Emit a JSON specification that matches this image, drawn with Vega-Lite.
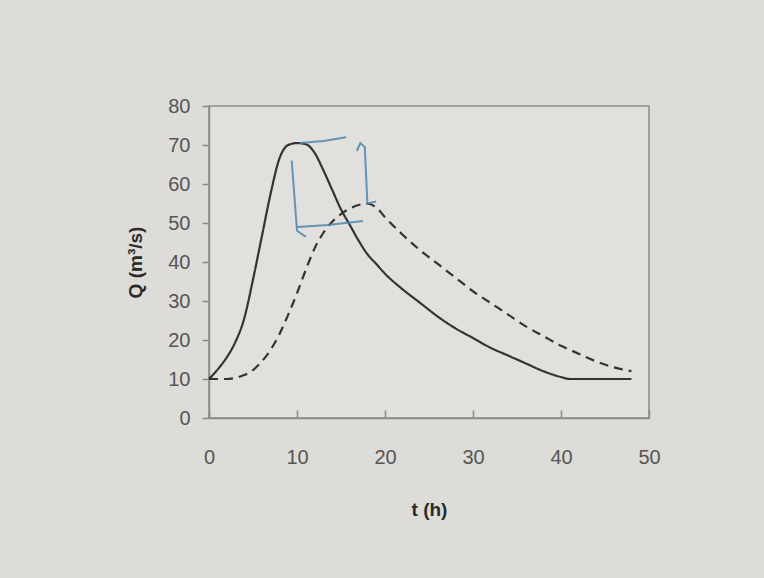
{
  "$schema": "https://vega.github.io/schema/vega-lite/v6.json",
  "width": 440,
  "height": 312,
  "autosize": {"type": "none"},
  "padding": {"left": 209, "top": 106, "right": 115, "bottom": 160},
  "background": "#dddcd8",
  "config": {
    "view": {"stroke": "#8a8a8a", "strokeWidth": 1.5, "fill": "#e1e0dc"},
    "axis": {
      "domainColor": "#8a8a8a",
      "domainWidth": 1.5,
      "tickColor": "#8a8a8a",
      "tickWidth": 1.5,
      "grid": false,
      "labelOverlap": false,
      "labelFlush": false,
      "labelFont": "Liberation Sans",
      "labelFontSize": 20,
      "labelColor": "#555555",
      "titleFont": "Liberation Sans",
      "titleFontWeight": "bold",
      "titleFontSize": 19,
      "titleColor": "#2a2a2a"
    }
  },
  "datasets": {
    "hydro": [
      {"series": "in", "t": 0, "Q": 10}, {"series": "in", "t": 1, "Q": 12.5}, {"series": "in", "t": 2, "Q": 15.5},
      {"series": "in", "t": 3, "Q": 19.5}, {"series": "in", "t": 4, "Q": 25.5}, {"series": "in", "t": 5, "Q": 35.5},
      {"series": "in", "t": 6, "Q": 46.5}, {"series": "in", "t": 7, "Q": 57.5}, {"series": "in", "t": 8, "Q": 66.5},
      {"series": "in", "t": 9, "Q": 70}, {"series": "in", "t": 10, "Q": 70.5}, {"series": "in", "t": 11, "Q": 70.2},
      {"series": "in", "t": 12, "Q": 68}, {"series": "in", "t": 13, "Q": 63.5}, {"series": "in", "t": 14, "Q": 58.5},
      {"series": "in", "t": 15, "Q": 53.5}, {"series": "in", "t": 16, "Q": 49.5}, {"series": "in", "t": 17, "Q": 45.5},
      {"series": "in", "t": 18, "Q": 42}, {"series": "in", "t": 19, "Q": 39.5}, {"series": "in", "t": 20, "Q": 37},
      {"series": "in", "t": 22, "Q": 33}, {"series": "in", "t": 24, "Q": 29.5}, {"series": "in", "t": 26, "Q": 26},
      {"series": "in", "t": 28, "Q": 23}, {"series": "in", "t": 30, "Q": 20.5}, {"series": "in", "t": 32, "Q": 18},
      {"series": "in", "t": 34, "Q": 16}, {"series": "in", "t": 36, "Q": 14}, {"series": "in", "t": 38, "Q": 12},
      {"series": "in", "t": 40, "Q": 10.5}, {"series": "in", "t": 41, "Q": 10}, {"series": "in", "t": 48, "Q": 10},
      {"series": "out", "t": 0, "Q": 10}, {"series": "out", "t": 1, "Q": 10}, {"series": "out", "t": 2, "Q": 10},
      {"series": "out", "t": 3, "Q": 10.3}, {"series": "out", "t": 4, "Q": 11}, {"series": "out", "t": 5, "Q": 12.3},
      {"series": "out", "t": 6, "Q": 14.5}, {"series": "out", "t": 7, "Q": 17.5}, {"series": "out", "t": 8, "Q": 21.5},
      {"series": "out", "t": 9, "Q": 26.5}, {"series": "out", "t": 10, "Q": 32}, {"series": "out", "t": 11, "Q": 38},
      {"series": "out", "t": 12, "Q": 43.5}, {"series": "out", "t": 13, "Q": 47.5}, {"series": "out", "t": 14, "Q": 50.3},
      {"series": "out", "t": 15, "Q": 52.3}, {"series": "out", "t": 16, "Q": 53.7}, {"series": "out", "t": 17, "Q": 54.6},
      {"series": "out", "t": 18, "Q": 55}, {"series": "out", "t": 19, "Q": 54}, {"series": "out", "t": 20, "Q": 51.5},
      {"series": "out", "t": 22, "Q": 47}, {"series": "out", "t": 24, "Q": 43}, {"series": "out", "t": 26, "Q": 39.5},
      {"series": "out", "t": 28, "Q": 36}, {"series": "out", "t": 30, "Q": 32.5}, {"series": "out", "t": 32, "Q": 29.5},
      {"series": "out", "t": 34, "Q": 26.5}, {"series": "out", "t": 36, "Q": 23.5}, {"series": "out", "t": 38, "Q": 21},
      {"series": "out", "t": 40, "Q": 18.5}, {"series": "out", "t": 42, "Q": 16.5}, {"series": "out", "t": 44, "Q": 14.5},
      {"series": "out", "t": 46, "Q": 13}, {"series": "out", "t": 48, "Q": 12}
    ],
    "ink": [
      {"seg": "top", "k": 1, "t": 10.3, "Q": 70.5}, {"seg": "top", "k": 2, "t": 13, "Q": 71}, {"seg": "top", "k": 3, "t": 15.6, "Q": 72},
      {"seg": "right", "k": 1, "t": 16.8, "Q": 68.5}, {"seg": "right", "k": 2, "t": 17.2, "Q": 70.5}, {"seg": "right", "k": 3, "t": 17.7, "Q": 69.5},
      {"seg": "right", "k": 4, "t": 18, "Q": 55}, {"seg": "right", "k": 5, "t": 19, "Q": 55.5},
      {"seg": "left", "k": 1, "t": 9.4, "Q": 66}, {"seg": "left", "k": 2, "t": 10, "Q": 48}, {"seg": "left", "k": 3, "t": 11, "Q": 46.5},
      {"seg": "bottom", "k": 1, "t": 10, "Q": 49}, {"seg": "bottom", "k": 2, "t": 13.5, "Q": 49.5}, {"seg": "bottom", "k": 3, "t": 17.5, "Q": 50.5}
    ]
  },
  "encoding": {
    "x": {
      "field": "t", "type": "quantitative",
      "scale": {"domain": [0, 50], "nice": false},
      "axis": {"values": [0, 10, 20, 30, 40, 50], "tickSize": -8, "labelPadding": 37, "title": "t (h)", "titlePadding": 33}
    },
    "y": {
      "field": "Q", "type": "quantitative",
      "scale": {"domain": [0, 80], "nice": false},
      "axis": {"values": [0, 10, 20, 30, 40, 50, 60, 70, 80], "tickCount": 9, "tickSize": 7, "labelPadding": 12, "title": "Q (m³/s)", "titlePadding": 22}
    }
  },
  "layer": [
    {
      "data": {"name": "hydro"},
      "mark": {"type": "line", "color": "#333333", "strokeWidth": 2.2, "interpolate": "monotone"},
      "encoding": {
        "strokeDash": {
          "field": "series", "type": "nominal",
          "scale": {"domain": ["in", "out"], "range": [[1, 0], [9, 6]]},
          "legend": null
        }
      }
    },
    {
      "data": {"name": "ink"},
      "mark": {"type": "line", "color": "#4f86ad", "strokeWidth": 2, "opacity": 0.85},
      "encoding": {
        "detail": {"field": "seg"},
        "order": {"field": "k"}
      }
    }
  ]
}
